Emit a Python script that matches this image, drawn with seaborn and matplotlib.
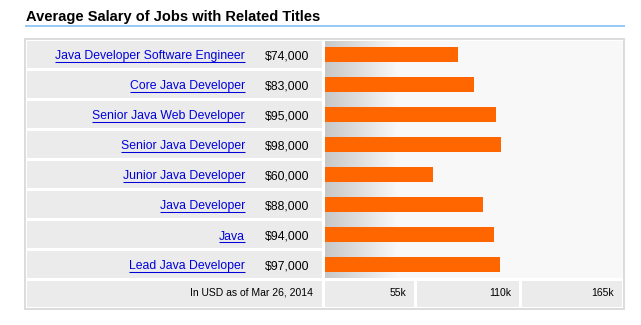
import numpy as np
import pandas as pd
import matplotlib
matplotlib.use("Agg")
import matplotlib.pyplot as plt
from matplotlib.patches import Rectangle
import seaborn as sns

title = "Average Salary of Jobs with Related Titles"
jobs = [
    "Java Developer Software Engineer",
    "Core Java Developer",
    "Senior Java Web Developer",
    "Senior Java Developer",
    "Junior Java Developer",
    "Java Developer",
    "Java",
    "Lead Java Developer",
]
salaries = [74000, 83000, 95000, 98000, 60000, 88000, 94000, 97000]
tick_labels = ["55k", "110k", "165k"]
footnote = "In USD as of Mar 26, 2014"

sns.set_theme(style="white")
plt.rcParams["font.family"] = ["Liberation Sans", "DejaVu Sans"]

W, H = 641, 325
fig = plt.figure(figsize=(W / 100, H / 100), dpi=100)
fig.patch.set_facecolor("white")

# pixel-space canvas for the table frame, cells and text
bg = fig.add_axes([0, 0, 1, 1])
bg.set_xlim(0, W)
bg.set_ylim(H, 0)
bg.axis("off")


def px_rect(x0, y0, x1, y1, **kw):
    kw.setdefault("lw", 0)
    bg.add_patch(Rectangle((x0, y0), x1 - x0, y1 - y0, **kw))


ROW_TOP, ROW_PITCH, ROW_H = 41, 30, 27
LABEL_X0, LABEL_X1 = 27, 322
BAR_X0, BAR_X1 = 325, 622
XMAX = 165000
CELL = "#ebebeb"
LINK = "#0000dd"
FS = 8.8

# title and its rule
bg.text(25.5, 20.7, title, fontsize=10.5, fontweight="bold", va="baseline",
        color="#000000")
px_rect(25, 24.6, 625, 26.6, fc="#9cc9f5")

# outer frame
px_rect(25, 38.5, 624, 309, fc="white", ec="#dcdcdc", lw=1.4)

n = len(jobs)
rows_bottom = ROW_TOP + ROW_PITCH * (n - 1) + ROW_H

# bar panel
ax = fig.add_axes([BAR_X0 / W, 1 - rows_bottom / H,
                   (BAR_X1 - BAR_X0) / W, (rows_bottom - ROW_TOP) / H])
npx = BAR_X1 - BAR_X0
cols = np.arange(npx)
shade = np.where(cols < 72, 0xc8 + (0xf8 - 0xc8) * cols / 72.0, 0xf8) / 255.0
grad = np.repeat(shade[None, :, None], 3, axis=2)
pad = (ROW_H / 2) / ROW_PITCH
ylo, yhi = n - 1 + (rows_bottom - ROW_TOP - (n - 1) * ROW_PITCH - ROW_H / 2) / ROW_PITCH, -pad
ax.imshow(grad, extent=[0, XMAX, ylo, yhi], aspect="auto", zorder=0,
          interpolation="nearest")

df = pd.DataFrame({"job": jobs, "salary": salaries})
sns.barplot(data=df, x="salary", y="job", orient="h", color="#ff6600",
            saturation=1, width=0.5, linewidth=0, ax=ax, zorder=2)
ax.set_xlim(0, XMAX)
ax.set_ylim(ylo, yhi)
ax.axis("off")

# label cells with job titles and salaries
label_texts = []
for i, (job, sal) in enumerate(zip(jobs, salaries)):
    top = ROW_TOP + ROW_PITCH * i
    px_rect(LABEL_X0, top, LABEL_X1, top + ROW_H, fc=CELL)
    t = bg.text(245, top + 18.5, job, ha="right", va="baseline",
                color=LINK, fontsize=FS)
    label_texts.append((t, top))
    bg.text(309, top + 18.5, f"${sal:,}", ha="right", va="baseline",
            color="#000000", fontsize=FS)

# footer row with the scale labels
ftop, fbot = 281, 307
px_rect(LABEL_X0, ftop, LABEL_X1, fbot, fc=CELL)
bg.text(313, ftop + 14.7, footnote, ha="right", va="baseline",
        color="#000000", fontsize=7.5)
tick_cells = [(325, 414), (417, 519), (522, 622)]
for (x0, x1), lab in zip(tick_cells, tick_labels):
    px_rect(x0, ftop, x1, fbot, fc=CELL)
    bg.text(x1 - 8, ftop + 14.7, lab, ha="right", va="baseline",
            color="#000000", fontsize=7.5)

# underline the job titles like hyperlinks
fig.canvas.draw()
renderer = fig.canvas.get_renderer()
for t, top in label_texts:
    bb = t.get_window_extent(renderer)
    bg.plot([bb.x0, bb.x1], [top + 20.5, top + 20.5], color=LINK, lw=0.75,
            solid_capstyle="butt")

fig.savefig("out.png", dpi=100, facecolor="white")
